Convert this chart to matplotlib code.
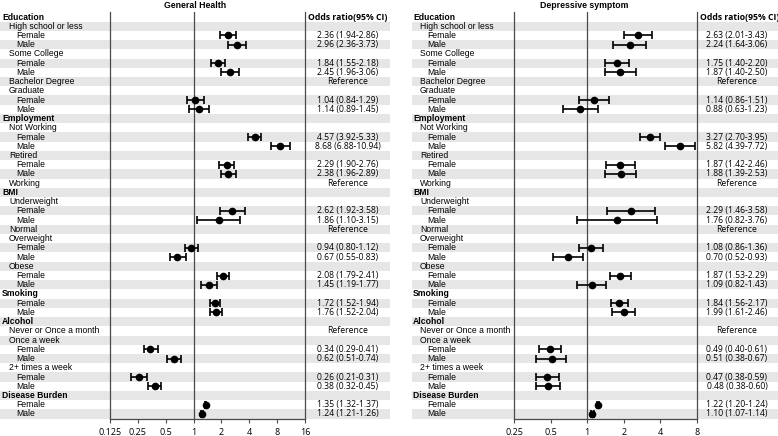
import numpy as np
import matplotlib.pyplot as plt

# rows of the forest plot (shared by both panels)
row_labels = ["Education", "High school or less", "Female", "Male", "Some College", "Female", "Male",
              "Bachelor Degree", "Graduate", "Female", "Male",
              "Employment", "Not Working", "Female", "Male", "Retired", "Female", "Male", "Working",
              "BMI", "Underweight", "Female", "Male", "Normal", "Overweight", "Female", "Male",
              "Obese", "Female", "Male",
              "Smoking", "Female", "Male",
              "Alcohol", "Never or Once a month", "Once a week", "Female", "Male",
              "2+ times a week", "Female", "Male",
              "Disease Burden", "Female", "Male"]
row_levels = [0, 1, 2, 2, 1, 2, 2, 1, 1, 2, 2,
              0, 1, 2, 2, 1, 2, 2, 1,
              0, 1, 2, 2, 1, 1, 2, 2, 1, 2, 2,
              0, 2, 2,
              0, 1, 1, 2, 2, 1, 2, 2,
              0, 2, 2]
reference_rows = [7, 18, 23, 34]

N = None
# General Health: odds ratio, lower, upper
gh_or = [N, N, 2.36, 2.96, N, 1.84, 2.45, N, N, 1.04, 1.14,
         N, N, 4.57, 8.68, N, 2.29, 2.38, N,
         N, N, 2.62, 1.86, N, N, 0.94, 0.67, N, 2.08, 1.45,
         N, 1.72, 1.76,
         N, N, N, 0.34, 0.62, N, 0.26, 0.38,
         N, 1.35, 1.24]
gh_lo = [N, N, 1.94, 2.36, N, 1.55, 1.96, N, N, 0.84, 0.89,
         N, N, 3.92, 6.88, N, 1.90, 1.96, N,
         N, N, 1.92, 1.10, N, N, 0.80, 0.55, N, 1.79, 1.19,
         N, 1.52, 1.52,
         N, N, N, 0.29, 0.51, N, 0.21, 0.32,
         N, 1.32, 1.21]
gh_hi = [N, N, 2.86, 3.73, N, 2.18, 3.06, N, N, 1.29, 1.45,
         N, N, 5.33, 10.94, N, 2.76, 2.89, N,
         N, N, 3.58, 3.15, N, N, 1.12, 0.83, N, 2.41, 1.77,
         N, 1.94, 2.04,
         N, N, N, 0.41, 0.74, N, 0.31, 0.45,
         N, 1.37, 1.26]

# Depressive symptom
dep_or = [N, N, 2.63, 2.24, N, 1.75, 1.87, N, N, 1.14, 0.88,
          N, N, 3.27, 5.82, N, 1.87, 1.88, N,
          N, N, 2.29, 1.76, N, N, 1.08, 0.70, N, 1.87, 1.09,
          N, 1.84, 1.99,
          N, N, N, 0.49, 0.51, N, 0.47, 0.48,
          N, 1.22, 1.10]
dep_lo = [N, N, 2.01, 1.64, N, 1.40, 1.40, N, N, 0.86, 0.63,
          N, N, 2.70, 4.39, N, 1.42, 1.39, N,
          N, N, 1.46, 0.82, N, N, 0.86, 0.52, N, 1.53, 0.82,
          N, 1.56, 1.61,
          N, N, N, 0.40, 0.38, N, 0.38, 0.38,
          N, 1.20, 1.07]
dep_hi = [N, N, 3.43, 3.06, N, 2.20, 2.50, N, N, 1.51, 1.23,
          N, N, 3.95, 7.72, N, 2.46, 2.53, N,
          N, N, 3.58, 3.76, N, N, 1.36, 0.93, N, 2.29, 1.43,
          N, 2.17, 2.46,
          N, N, N, 0.61, 0.67, N, 0.59, 0.60,
          N, 1.24, 1.14]

gh_ticks = [0.125, 0.25, 0.5, 1, 2, 4, 8, 16]
gh_tick_labels = ["0.125", "0.25", "0.5", "1", "2", "4", "8", "16"]
dep_ticks = [0.25, 0.5, 1, 2, 4, 8]
dep_tick_labels = ["0.25", "0.5", "1", "2", "4", "8"]

W, H = 778, 436
fig = plt.figure(figsize=(W / 100, H / 100), dpi=100)

stripe = "#e6e6e6"
line_col = "#4a4a4a"
lab_font = "Liberation Sans"
num_font = "Open Sans"
top_px, bot_px = 12.4, 418.6
nrows = len(row_labels)


def fx(px):
    return px / W


def panel(title, est, lo, hi, ticks, tick_labels, bg_x, ax_x, lab_x, val_x, title_x):
    b = 1 - bot_px / H
    h = (bot_px - top_px) / H
    # background with stripes + labels
    bg = fig.add_axes([fx(bg_x[0]), b, fx(bg_x[1] - bg_x[0]), h], zorder=0)
    bg.set_xlim(0, 1)
    bg.set_ylim(nrows - 0.5, -0.5)
    bg.axis("off")
    rows = np.arange(nrows)
    grey = rows[rows % 2 == 1]
    bg.barh(grey, 1, left=0, height=1, color=stripe, linewidth=0)

    tr = plt.matplotlib.transforms.blended_transform_factory(fig.transFigure, bg.transData)
    for i, (lab, lev) in enumerate(zip(row_labels, row_levels)):
        bg.text(fx(lab_x + 7 * lev), i, lab, transform=tr, va="center", ha="left",
                fontsize=6.2, family=lab_font, fontweight="bold" if lev == 0 else "normal")
        if est[i] is not None:
            txt = f"{est[i]:.2f} ({lo[i]:.2f}-{hi[i]:.2f})"
            bg.text(fx(val_x), i, txt, transform=tr, va="center", ha="center",
                    fontsize=6.2, family=num_font)
        elif i in reference_rows:
            bg.text(fx(val_x), i, "Reference", transform=tr, va="center", ha="center",
                    fontsize=6.2, family=num_font)
    bg.text(fx(ax_x[1] + 3), 0, "Odds ratio(95% CI)", transform=tr, va="center", ha="left",
            fontsize=6.2, family=num_font, fontweight="bold")
    fig.text(fx(title_x), 1 - 5.5 / H, title, ha="center", va="center",
             fontsize=6.3, family=lab_font, fontweight="bold")

    # forest plot axes
    ax = fig.add_axes([fx(ax_x[0]), b, fx(ax_x[1] - ax_x[0]), h], zorder=1)
    ax.patch.set_alpha(0)
    ax.set_xscale("log", base=2)
    ax.set_xlim(ticks[0], ticks[-1])
    ax.set_ylim(nrows - 0.5, -0.5)
    ax.set_yticks([])
    ax.set_xticks(ticks)
    ax.set_xticklabels(tick_labels)
    ax.xaxis.set_minor_locator(plt.NullLocator())
    ax.tick_params(axis="x", length=3, width=0.8, color=line_col, pad=3.5, labelsize=6.5)
    for t in ax.get_xticklabels():
        t.set_family(num_font)
    ax.spines["top"].set_visible(False)
    for s in ("left", "right", "bottom"):
        ax.spines[s].set_color(line_col)
        ax.spines[s].set_linewidth(0.9)
    ax.axvline(1, color=line_col, linewidth=0.9)

    idx = [i for i in range(nrows) if est[i] is not None]
    e = np.array([est[i] for i in idx])
    l = np.array([lo[i] for i in idx])
    u = np.array([hi[i] for i in idx])
    ax.errorbar(e, idx, xerr=[e - l, u - e], fmt="o", color="black", ms=4.5,
                capsize=2.8, elinewidth=1.2, capthick=1.2)
    return ax


panel("General Health", gh_or, gh_lo, gh_hi, gh_ticks, gh_tick_labels,
      bg_x=(0, 390), ax_x=(110, 305), lab_x=2, val_x=348, title_x=195)
panel("Depressive symptom", dep_or, dep_lo, dep_hi, dep_ticks, dep_tick_labels,
      bg_x=(412, 778), ax_x=(514, 697), lab_x=413, val_x=737, title_x=584)

fig.savefig("out.png", dpi=100)
